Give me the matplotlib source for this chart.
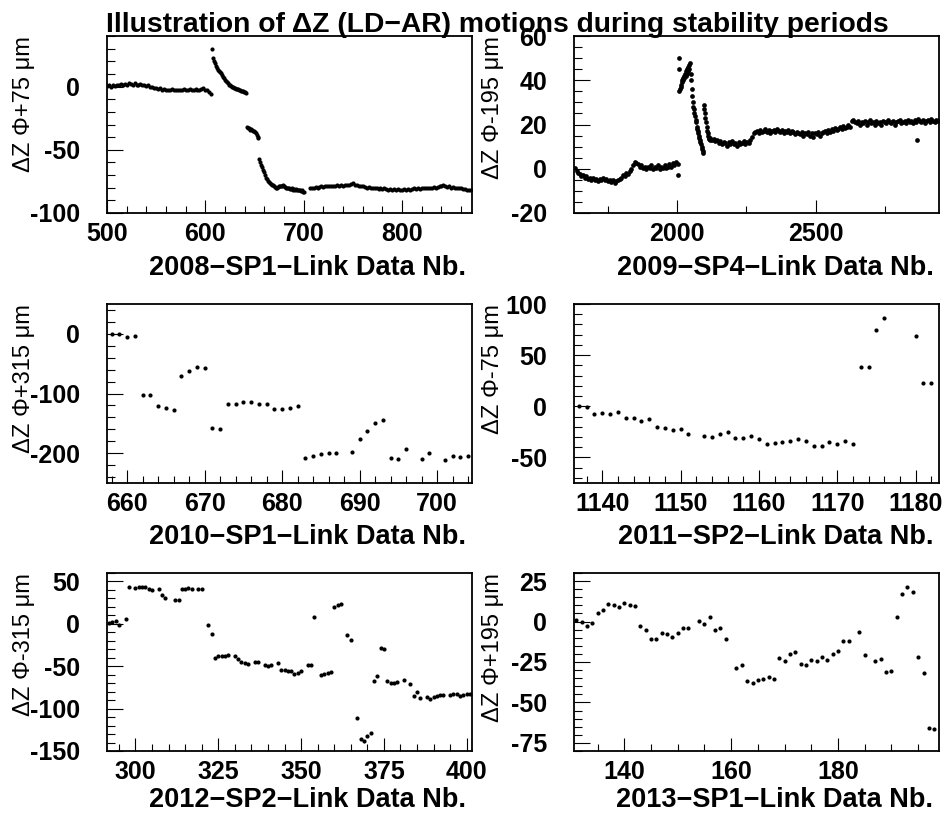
import numpy as np
import matplotlib.pyplot as plt
from matplotlib.ticker import MultipleLocator

plt.rcParams['font.family'] = ['Liberation Sans', 'DejaVu Sans']
plt.rcParams['axes.unicode_minus'] = False

# ---------------- 2008 SP1 (dense link data, read in stretches) ----------------
# each stretch: first link data nb., step, values (um)
y08_a = [0.5, 1, 0, 1, 0.5, 1.5, 1, 2, 1.5, 2, 1, 2.5, 2, 1.5, 2.5, 1.5, 1, 2, 1, 1.5,
         0.5, 1, 0, -0.5, -1, -1.5, -2, -1.5, -2.5, -2, -3, -2.5, -3, -2, -3, -2.5, -3,
         -2.5, -3, -2, -3, -2.5, -2, -3, -2.5, -2, -3, -2.5, -2, -1.5, -2.5, -3, -4.5, -6]
y08_b = [30, 23, 20, 18.5, 16.5, 14.5, 13, 12, 11.5, 10.5, 9, 7.5, 6.5, 5.5, 4.5, 3.5,
         2.5, 1.5, 1, 0.5, 0, -0.3, -0.8, -1.2, -1.6, -2, -2.3, -2.6, -2.9, -3.2, -3.4,
         -3.6, -4, -4.3, -4.7]
y08_c = [-32, -32.5, -33, -34, -33.5, -34, -35, -35.5, -36, -37, -38, -39.5, -41]
y08_d = [-57.5, -60, -62, -64, -66, -67.5, -70, -72.5, -73.5, -74.5, -75.5, -76, -77,
         -77.5, -78, -78.5, -79.5, -80, -80, -79.5, -79, -79, -78.5, -78.5, -78, -79,
         -79.5, -80, -80, -80.5, -80, -81, -81, -80.5, -81.5, -81, -81.5, -81, -81.5,
         -82, -81.5, -82, -82.5, -82, -83, -83.5]
y08_e = [-80, -80.5, -80, -79.5, -80, -79.5, -79, -79.5, -79, -78.5, -79, -78.5, -79,
         -78.5, -78, -78.5, -78, -78.5, -78, -77.5, -78, -77, -76.5, -77.5, -78, -78.5,
         -79, -79, -79.5, -80, -79.5, -80, -80.5, -80, -80.5, -81, -80.5, -81, -80.5,
         -81, -81.5, -81, -81.5, -81, -81.5, -81, -82, -81.5, -81, -81.5, -81, -81.5,
         -81, -80.5, -81, -80.5, -81, -80.5, -80, -80.5, -80, -80.5, -80, -79.5, -80,
         -79.5, -79, -78.5, -78, -79, -79.5, -79, -80, -79.5, -80, -80.5, -80, -80.5,
         -81, -81, -81.5, -82, -82]
stretches_08 = [(500, 2, y08_a), (607, 1, y08_b), (642, 1, y08_c), (655, 1, y08_d), (706, 2, y08_e)]

# ---------------- 2009 SP4 (dense) ----------------
y09_a = [0.5, -1, -2, -2.5, -3.5, -3, -4, -3.5, -4.5, -4, -5, -4, -5, -4.5, -5.5, -4.5,
         -5, -4, -5, -4.5, -5.5, -5, -6, -5, -6.5, -5.5, -5, -4.5, -4, -3, -3.5, -2,
         -2.5, -1, 0, 1.5, 3, 2.5, 2, 1, 1.5, 0.5, 1, 0, 1, 0.5, 1.5, 0, 1, 0.5, 1.5,
         0, 1, 0.5, 1.5, 0.5, 1, 2, 1, 2.5, 1.5, 3, 2]
x09_b = [2004, 2005, 2006, 2008, 2010, 2012, 2014, 2016, 2018, 2020, 2022, 2024, 2026,
         2028, 2030, 2032, 2034, 2036, 2038, 2040, 2042, 2044, 2046, 2048]
y09_b = [-3, 50, 45, 35, 36, 38, 37, 39, 40, 41, 40, 42, 41, 43, 42, 44, 43, 45, 44, 46,
         45, 47, 48, 43]
y09_c = [40, 36, 33, 30, 28, 27, 25, 24, 22, 21, 19, 18, 17, 16, 15, 14, 13, 12, 11, 10,
         9, 8, 7]
y09_d = [29, 27, 25, 23, 21, 19, 17, 16, 15, 14, 13.5, 13]
y09_e = [14, 13, 13.5, 12.5, 13,
         11.5, 12.5, 11, 12, 11.5, 10.5, 12, 11, 12.5, 11, 11.5, 10.5, 12, 11, 11.5, 12.5,
         11, 12, 11.5,
         13, 14.5, 16, 16.5,
         17, 16, 17.5, 16.5, 17, 18, 16.5, 17.5, 16, 17, 17.5, 16.5, 18, 17, 16.5, 17.5,
         16, 17, 16.5, 17.5, 16, 17, 16.5, 15.5, 16.5,
         16, 15.5, 16.5, 15, 16, 15.5, 16.5, 15, 16, 14.5, 16, 15.5, 16.5, 15, 16, 16.5,
         17, 16, 17.5, 16.5, 18, 17, 18.5, 17.5, 18, 19, 18, 19.5, 18.5, 19, 20, 19, 21.5,
         22,
         21, 20.5, 21.5, 20, 21, 20.5, 21.5, 20, 21, 22, 20.5, 21, 20, 21.5, 20.5, 21, 20,
         21.5, 21, 20.5, 22, 21, 20.5, 21.5, 20, 21, 21.5, 22, 20.5, 21, 21.5, 20.5, 22,
         21, 21.5, 20.5, 22, 21, 22.5, 21.5, 21, 22, 20.5, 21.5, 22, 21, 22.5, 21.5, 21,
         22, 21.5]
x09_out = [2868]
y09_out = [13]

# ---------------- 2010 SP1 ----------------
x10 = [658, 659, 660, 661, 662, 663, 664, 665, 666, 667, 668, 669, 670, 671, 672, 673,
       674, 675, 676, 677, 678, 679, 680, 681, 682, 683, 684, 685, 686, 687, 689, 690,
       691, 692, 693, 694, 695, 696, 698, 699, 701, 702, 703, 704]
y10 = [0, -1, -6, -4, -102, -102, -121, -125, -127, -70, -63, -56, -58, -158, -160, -117,
       -117, -114, -114, -117, -118, -126, -126, -125, -121, -208, -205, -202, -200, -199,
       -198, -177, -163, -149, -144, -208, -210, -193, -210, -199, -211, -204, -207, -205]

# ---------------- 2011 SP2 ----------------
x11 = [1137, 1138, 1139, 1140, 1141, 1142, 1143, 1144, 1145, 1146, 1147, 1148, 1149,
       1150, 1151, 1153, 1154, 1155, 1156, 1157, 1158, 1159, 1160, 1161, 1162, 1163,
       1164, 1165, 1166, 1167, 1168, 1169, 1170, 1171, 1172, 1173, 1174, 1175, 1176,
       1180, 1181, 1182]
y11 = [0, -1, -8, -7, -8, -6, -11, -11, -14, -12, -20, -21, -23, -22, -27,
       -29, -30, -27, -25, -31, -31, -29, -32, -37, -36, -35, -34, -32, -34, -39, -39,
       -35, -37, -34, -37, 38.5, 38.5, 75, 86,
       69, 23, 23]

# ---------------- 2012 SP2 ----------------
x12 = [292, 293, 294, 295, 297, 298, 300, 301, 302, 303, 304, 305, 307, 308, 309, 312,
       313, 314, 315, 316, 317, 319, 320, 322, 323, 324, 325, 326, 327, 328, 330, 331,
       332, 333, 334, 336, 337, 339, 340, 341, 343, 344, 345, 346, 347, 348, 349, 350,
       352, 353, 354, 356, 357, 358, 359, 360, 361, 362, 364, 365, 367, 368, 369, 370,
       371, 372, 373, 374, 375, 376, 377, 378, 379, 381, 383, 384, 385, 386, 388, 389,
       390, 391, 392, 393, 395, 396, 397, 398, 399, 400, 401]
y12 = [1.2, 2.3, 3, -1, 5.4, 44, 42, 43.6, 43.6, 43.6, 40.5, 39.7, 40.5, 34, 31, 27.6,
       27.6, 40.5, 41, 42, 41, 40.5, 40.5, -1.5, -12.5, -40.5, -37.4, -37.4, -37.4, -37,
       -38.5, -41, -45.5, -46, -47.5, -45, -45, -48, -50, -48, -46.7, -54, -55, -56, -56,
       -59, -58, -56, -49, -49, 8, -60.7, -59, -58.4, -57, 20, 22.6, 23.7, -13, -18.7,
       -110.5, -136, -138.5, -132, -129, -67, -62, -28, -29.5, -68, -69.6, -69.6, -68.5,
       -66, -71, -85, -81, -88, -86, -89, -86, -85, -84, -84, -84, -83, -82.5, -85, -84,
       -82.5, -83]

# ---------------- 2013 SP1 ----------------
x13 = [131, 132, 133, 134, 135, 136, 137, 138, 139, 140, 141, 142, 143, 144, 145, 146,
       147, 148, 149, 150, 151, 152, 154, 155, 156, 157, 158, 159, 161, 162, 163, 164,
       165, 166, 167, 168, 169, 170, 171, 172, 173, 174, 175, 176, 177, 178, 179, 180,
       181, 182, 184, 185, 187, 188, 189, 190, 191, 192, 193, 194, 195, 196, 197, 198]
y13 = [1, 0, -3, -1, 5, 7, 11, 10, 9, 11.5, 10, 9.5, -3, -5, -11, -10.5, -7, -7.5, -9.5,
       -7, -4, -3.7, 0.4, -1.6, 3, -5, -4.3, -11, -29, -27, -37, -37.7, -36, -35.6, -34,
       -35.6, -22.6, -24.7, -20, -19, -26, -27, -24, -24.7, -22, -24, -20, -18, -12, -12,
       -6.4, -20.6, -24.7, -23, -31.5, -30.5, 2.5, 17, 21.6, 18.5, -22, -32, -66, -66.5]

title = 'Illustration of \u0394Z (LD\u2212AR) motions during stability periods'
xlabels = ['2008\u2212SP1\u2212Link Data Nb.', '2009\u2212SP4\u2212Link Data Nb.',
           '2010\u2212SP1\u2212Link Data Nb.', '2011\u2212SP2\u2212Link Data Nb.',
           '2012\u2212SP2\u2212Link Data Nb.', '2013\u2212SP1\u2212Link Data Nb.']
ylabels = ['\u0394Z \u03a6+75 \u03bcm', '\u0394Z \u03a6-195 \u03bcm',
           '\u0394Z \u03a6+315 \u03bcm', '\u0394Z \u03a6-75 \u03bcm',
           '\u0394Z \u03a6-315 \u03bcm', '\u0394Z \u03a6+195 \u03bcm']


def run(start, step, vals):
    # consecutive link data numbers for one stretch of readings
    return start + step * np.arange(len(vals))


x08 = np.concatenate([run(s, st, v) for s, st, v in stretches_08])
y08 = np.concatenate([v for s, st, v in stretches_08])
x09 = np.concatenate([run(1630, 6, y09_a), x09_b, run(2050, 2, y09_c),
                      run(2096, 2, y09_d), run(2120, 6, y09_e), x09_out])
y09 = np.concatenate([y09_a, y09_b, y09_c, y09_d, y09_e, y09_out])

panels = [
    (x08, y08, (500, 871), (-100, 40), 100, 20, 50, 10, 3.0),
    (x09, y09, (1627, 2946), (-20, 60), 500, 250, 20, 5, 3.4),
    (x10, y10, (657.4, 704.5), (-250, 50), 10, 2, 100, 20, 3.0),
    (x11, y11, (1136.4, 1183), (-75, 100), 10, 2, 50, 10, 3.0),
    (x12, y12, (291.4, 401.6), (-150, 60), 25, 5, 50, 10, 3.0),
    (x13, y13, (130.6, 198.9), (-80, 30), 20, 5, 25, 5, 3.0),
]

fig = plt.figure(figsize=(9.51, 8.17), dpi=100)
lefts = [0.1125, 0.6036]
bottoms = [0.7393, 0.4088, 0.0808]
heights = [0.2166, 0.2191, 0.2179]
xlab_off = [-39.5, -39, -35]

for i, (x, y, xl, yl, xmaj, xmin, ymaj, ymin, ms) in enumerate(panels):
    r, c = divmod(i, 2)
    ax = fig.add_axes([lefts[c], bottoms[r], 0.3838, heights[r]])
    ax.plot(x, y, 'o', color='black', ms=ms, mew=0)
    ax.set_xlim(xl)
    ax.set_ylim(yl)
    ax.xaxis.set_major_locator(MultipleLocator(xmaj))
    ax.xaxis.set_minor_locator(MultipleLocator(xmin))
    ax.yaxis.set_major_locator(MultipleLocator(ymaj))
    ax.yaxis.set_minor_locator(MultipleLocator(ymin))
    ax.tick_params(axis='x', which='major', direction='in', length=9.5, width=0.8,
                   pad=6.5, labelsize=18, top=False)
    ax.tick_params(axis='x', which='minor', direction='in', length=5, width=0.8, top=False)
    ax.tick_params(axis='y', which='major', direction='in', length=11.5, width=0.8,
                   pad=19.5, labelsize=18, right=False)
    ax.tick_params(axis='y', which='minor', direction='in', length=5.5, width=0.8, right=False)
    for lab in ax.get_xticklabels() + ax.get_yticklabels():
        lab.set_fontweight('bold')
    for sp in ax.spines.values():
        sp.set_linewidth(1.3)
    ax.annotate(xlabels[i], xy=(1, 0), xycoords='axes fraction', xytext=(-4, xlab_off[r]),
                textcoords='offset points', ha='right', va='center',
                fontsize=19.5, fontweight='bold')
    ax.annotate(ylabels[i], xy=(0, 1), xycoords='axes fraction', xytext=(-60 + 2 * c, 0),
                textcoords='offset points', ha='center', va='top', rotation=90,
                fontsize=17)

fig.text(0.523, 0.9614, title, ha='center', va='baseline', fontsize=20.3, fontweight='bold')

fig.savefig('out.png', dpi=100)
